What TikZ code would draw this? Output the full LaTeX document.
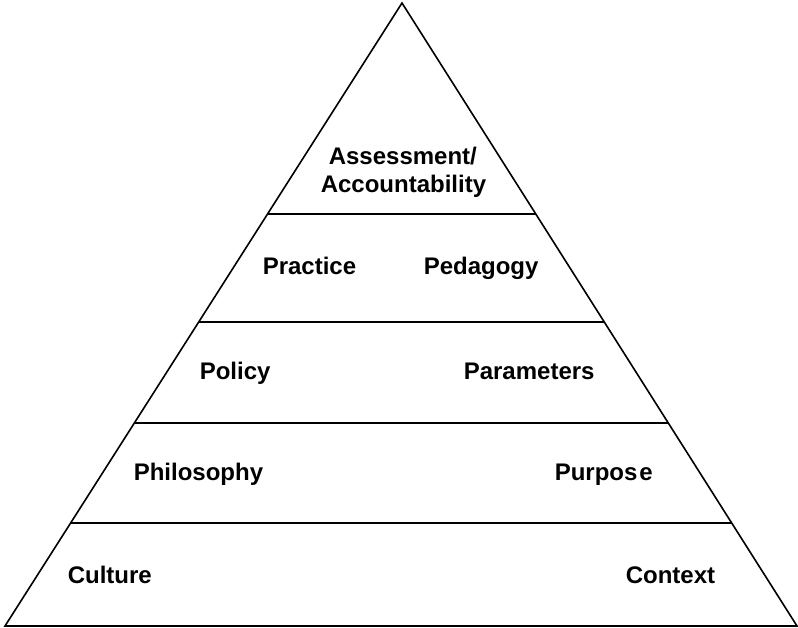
\documentclass[tikz,border=0pt]{standalone}
\usepackage{fontspec}
\setmainfont{Liberation Sans}
\usetikzlibrary{calc}
\begin{document}
\begin{tikzpicture}[x=1pt, y=-1pt, line width=1.6pt,
		lbl/.style={font=\fontsize{24}{28}\bfseries\selectfont, anchor=base west, inner sep=0pt}]
			\useasboundingbox (0,0) rectangle (798,628);
			\coordinate (apex) at (402,3);
			\coordinate (bl) at (5,626);
			\coordinate (br) at (797,626);
			\draw[line join=miter] (apex)--(bl)--(br)--cycle;
			\foreach \t in {0.3387, 0.512, 0.674, 0.8347}
				\draw ($(apex)!\t!(bl)$)--($(apex)!\t!(br)$);
			\node[lbl] (assess) at (328,165) {Assessment/};
			\node[lbl] (account) at (320,193) {Accountability};
			\node[lbl] (practice) at (262,275) {Practice};
			\node[lbl] (pedagogy) at (423,275) {Pedagogy};
			\node[lbl] (policy) at (199,379) {Policy};
			\node[lbl] (param) at (463,379) {Parameters};
			\node[lbl] (philo) at (133,480) {Philosophy};
			\node[lbl] (purpose) at (554,480) {Purpos\kern2pt e};
			\node[lbl] (culture) at (67,583) {Culture};
			\node[lbl] (context) at (625,583) {Context};
		\end{tikzpicture}
\end{document}
